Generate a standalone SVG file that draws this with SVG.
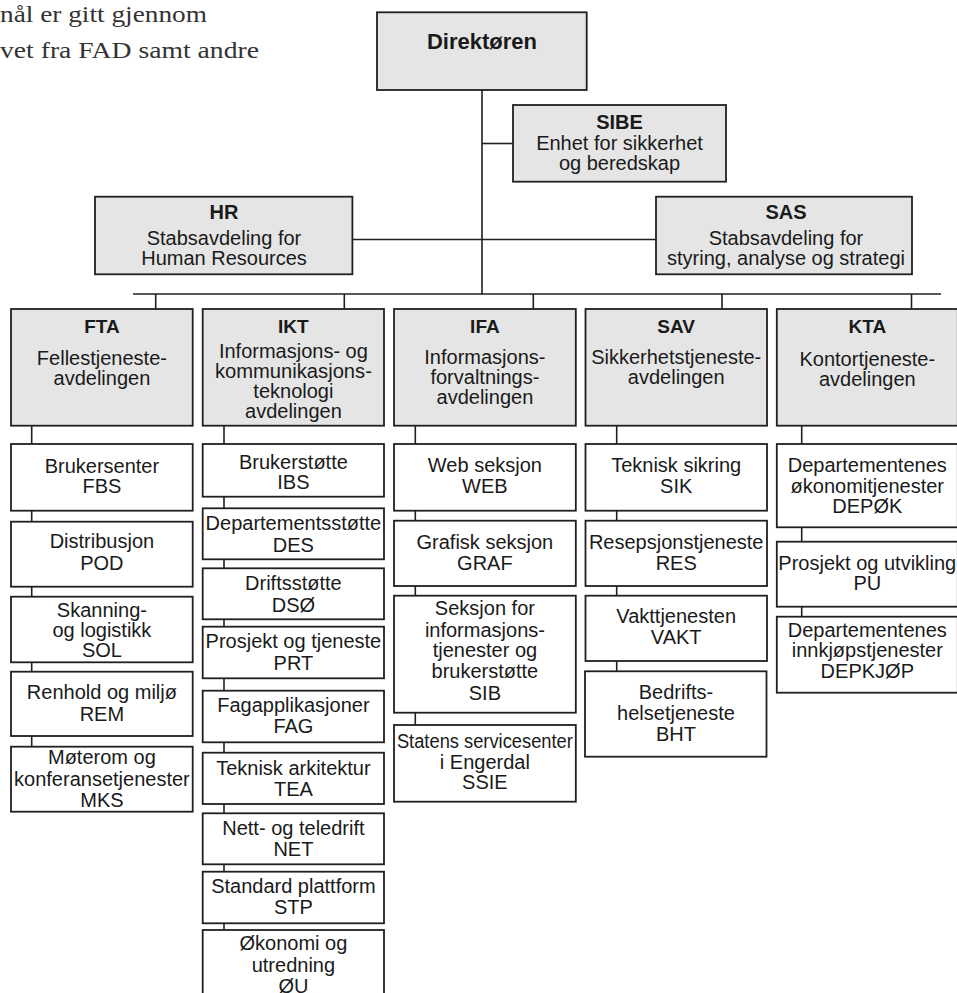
<svg xmlns="http://www.w3.org/2000/svg" width="957" height="993" viewBox="0 0 957 993">
<style>
.hd{fill:#e5e5e5;stroke:#231f20;stroke-width:1.8}
.sb{fill:#ffffff;stroke:#231f20;stroke-width:1.8}
.ln{stroke:#231f20;stroke-width:1.6;fill:none}
text{font-family:"Liberation Sans",Arial,sans-serif;fill:#1a1a1a;text-anchor:middle;font-size:20px}
.b{font-weight:bold;font-size:19px}
.b2{font-weight:bold;font-size:20px}
.intro{font-family:"Liberation Serif","Times New Roman",serif;font-size:23px;text-anchor:start;fill:#333}
</style>
<rect width="957" height="993" fill="#ffffff"/>
<text class="intro" x="0" y="22" textLength="207" lengthAdjust="spacingAndGlyphs">nål er gitt gjennom</text>
<text class="intro" x="0" y="58" textLength="259" lengthAdjust="spacingAndGlyphs">vet fra FAD samt andre</text>
<g id="connectors">
<line class="ln" x1="482" y1="90" x2="482" y2="294"/>
<line class="ln" x1="482" y1="143.5" x2="513" y2="143.5"/>
<line class="ln" x1="352.4" y1="239.5" x2="656" y2="239.5"/>
<line class="ln" x1="133" y1="294" x2="941" y2="294"/>
<line class="ln" x1="155.7" y1="294" x2="155.7" y2="309"/>
<line class="ln" x1="344.3" y1="294" x2="344.3" y2="309"/>
<line class="ln" x1="533.3" y1="294" x2="533.3" y2="309"/>
<line class="ln" x1="722" y1="294" x2="722" y2="309"/>
<line class="ln" x1="911.5" y1="294" x2="911.5" y2="309"/>
<line class="ln" x1="31.7" y1="425.7" x2="31.7" y2="746.7"/>
<line class="ln" x1="224" y1="425.7" x2="224" y2="930"/>
<line class="ln" x1="415.3" y1="425.7" x2="415.3" y2="725"/>
<line class="ln" x1="616.7" y1="425.7" x2="616.7" y2="671.3"/>
<line class="ln" x1="801.7" y1="425.7" x2="801.7" y2="616.7"/>
</g>
<g id="direktoren">
<rect class="hd" x="377" y="12.3" width="209.7" height="77.7"/>
<text class="b2" x="482" y="48.5" style="font-size:22px">Direktøren</text>
</g>
<g id="sibe">
<rect class="hd" x="513" y="105" width="213" height="76.7"/>
<text class="b2" x="619.5" y="128.5">SIBE</text>
<text x="619.5" y="150">Enhet for sikkerhet</text>
<text x="619.5" y="170">og beredskap</text>
</g>
<g id="hr">
<rect class="hd" x="95" y="196.7" width="257.4" height="77.6"/>
<text class="b2" x="224" y="219">HR</text>
<text x="224" y="245">Stabsavdeling for</text>
<text x="224" y="265">Human Resources</text>
</g>
<g id="sas">
<rect class="hd" x="656" y="196.7" width="256" height="77.6"/>
<text class="b2" x="786" y="219">SAS</text>
<text x="786" y="245">Stabsavdeling for</text>
<text x="786" y="265">styring, analyse og strategi</text>
</g>
<g id="fta">
<rect class="hd" x="11" y="309" width="181.7" height="116.7"/>
<text class="b" x="101.9" y="333.3">FTA</text>
<text x="101.9" y="364.5">Fellestjeneste-</text>
<text x="101.9" y="384.5">avdelingen</text>
</g>
<g id="ikt">
<rect class="hd" x="202.7" y="309" width="181.3" height="116.7"/>
<text class="b" x="293.4" y="333.3">IKT</text>
<text x="293.4" y="357.5">Informasjons- og</text>
<text x="293.4" y="377.5" textLength="157" lengthAdjust="spacingAndGlyphs">kommunikasjons-</text>
<text x="293.4" y="397.5">teknologi</text>
<text x="293.4" y="417.5">avdelingen</text>
</g>
<g id="ifa">
<rect class="hd" x="394" y="309" width="181.8" height="116.7"/>
<text class="b" x="484.9" y="333.3">IFA</text>
<text x="484.9" y="363.5">Informasjons-</text>
<text x="484.9" y="383.5">forvaltnings-</text>
<text x="484.9" y="403.5">avdelingen</text>
</g>
<g id="sav">
<rect class="hd" x="585.5" y="309" width="181.5" height="116.7"/>
<text class="b" x="676.2" y="333.3">SAV</text>
<text x="676.2" y="364">Sikkerhetstjeneste-</text>
<text x="676.2" y="384">avdelingen</text>
</g>
<g id="kta">
<rect class="hd" x="776.8" y="309" width="181" height="116.7"/>
<text class="b" x="867.3" y="333.3">KTA</text>
<text x="867.3" y="365.5">Kontortjeneste-</text>
<text x="867.3" y="385.5">avdelingen</text>
</g>
<g id="fbs">
<rect class="sb" x="11" y="444" width="181.7" height="66.7"/>
<text x="101.9" y="472.7">Brukersenter</text>
<text x="101.9" y="492.7">FBS</text>
</g>
<g id="pod">
<rect class="sb" x="11" y="521.7" width="181.7" height="65"/>
<text x="101.9" y="548.3">Distribusjon</text>
<text x="101.9" y="570">POD</text>
</g>
<g id="sol">
<rect class="sb" x="11" y="596.7" width="181.7" height="65.6"/>
<text x="101.9" y="616.7">Skanning-</text>
<text x="101.9" y="636.7">og logistikk</text>
<text x="101.9" y="657.3">SOL</text>
</g>
<g id="rem">
<rect class="sb" x="11" y="671.7" width="181.7" height="64.3"/>
<text x="101.9" y="699.3">Renhold og miljø</text>
<text x="101.9" y="720.7">REM</text>
</g>
<g id="mks">
<rect class="sb" x="11" y="746.7" width="181.7" height="65"/>
<text x="101.9" y="764">Møterom og</text>
<text x="101.9" y="785.5">konferansetjenester</text>
<text x="101.9" y="806.5">MKS</text>
</g>
<g id="ibs">
<rect class="sb" x="202.7" y="444" width="181.3" height="52.7"/>
<text x="293.4" y="469">Brukerstøtte</text>
<text x="293.4" y="489">IBS</text>
</g>
<g id="des">
<rect class="sb" x="202.7" y="508.3" width="181.3" height="51"/>
<text x="293.4" y="529.5">Departementsstøtte</text>
<text x="293.4" y="551.5">DES</text>
</g>
<g id="dso">
<rect class="sb" x="202.7" y="568.3" width="181.3" height="51"/>
<text x="293.4" y="589.5">Driftsstøtte</text>
<text x="293.4" y="611.5">DSØ</text>
</g>
<g id="prt">
<rect class="sb" x="202.7" y="626.7" width="181.3" height="51.6"/>
<text x="293.4" y="648.3">Prosjekt og tjeneste</text>
<text x="293.4" y="670">PRT</text>
</g>
<g id="fag">
<rect class="sb" x="202.7" y="690.7" width="181.3" height="51.6"/>
<text x="293.4" y="711.5">Fagapplikasjoner</text>
<text x="293.4" y="733">FAG</text>
</g>
<g id="tea">
<rect class="sb" x="202.7" y="752.7" width="181.3" height="51.3"/>
<text x="293.4" y="775">Teknisk arkitektur</text>
<text x="293.4" y="795.5">TEA</text>
</g>
<g id="net">
<rect class="sb" x="202.7" y="813.3" width="181.3" height="51"/>
<text x="293.4" y="835">Nett- og teledrift</text>
<text x="293.4" y="856">NET</text>
</g>
<g id="stp">
<rect class="sb" x="202.7" y="871.7" width="181.3" height="51.6"/>
<text x="293.4" y="892.7">Standard plattform</text>
<text x="293.4" y="914.3">STP</text>
</g>
<g id="ou">
<rect class="sb" x="202.7" y="930" width="181.3" height="80"/>
<text x="293.4" y="950">Økonomi og</text>
<text x="293.4" y="971.5">utredning</text>
<text x="293.4" y="992.5">ØU</text>
</g>
<g id="web">
<rect class="sb" x="394" y="444" width="181.8" height="66.7"/>
<text x="484.9" y="471.5">Web seksjon</text>
<text x="484.9" y="493">WEB</text>
</g>
<g id="graf">
<rect class="sb" x="394" y="520.7" width="181.8" height="65.3"/>
<text x="484.9" y="549">Grafisk seksjon</text>
<text x="484.9" y="569.5">GRAF</text>
</g>
<g id="sib">
<rect class="sb" x="394" y="595.7" width="181.8" height="117"/>
<text x="484.9" y="615">Seksjon for</text>
<text x="484.9" y="636.5">informasjons-</text>
<text x="484.9" y="657.3">tjenester og</text>
<text x="484.9" y="678.3">brukerstøtte</text>
<text x="484.9" y="700">SIB</text>
</g>
<g id="ssie">
<rect class="sb" x="394" y="725" width="181.8" height="76.7"/>
<text x="484.9" y="748.3" textLength="176" lengthAdjust="spacingAndGlyphs">Statens servicesenter</text>
<text x="484.9" y="768.5">i Engerdal</text>
<text x="484.9" y="789">SSIE</text>
</g>
<g id="sik">
<rect class="sb" x="585.5" y="444" width="181.5" height="66.7"/>
<text x="676.2" y="471.5">Teknisk sikring</text>
<text x="676.2" y="493">SIK</text>
</g>
<g id="res">
<rect class="sb" x="585.5" y="520.7" width="181.5" height="65.3"/>
<text x="676.2" y="549">Resepsjonstjeneste</text>
<text x="676.2" y="569.5">RES</text>
</g>
<g id="vakt">
<rect class="sb" x="585.5" y="595.7" width="181.5" height="65.3"/>
<text x="676.2" y="623.3">Vakttjenesten</text>
<text x="676.2" y="643.5">VAKT</text>
</g>
<g id="bht">
<rect class="sb" x="585" y="671.3" width="181.5" height="85.4"/>
<text x="676" y="699.3">Bedrifts-</text>
<text x="676" y="720">helsetjeneste</text>
<text x="676" y="740.7">BHT</text>
</g>
<g id="depok">
<rect class="sb" x="776.8" y="444" width="181" height="83.3"/>
<text x="867.3" y="471.7">Departementenes</text>
<text x="867.3" y="493.3">økonomitjenester</text>
<text x="867.3" y="513.3">DEPØK</text>
</g>
<g id="pu">
<rect class="sb" x="776.8" y="541.7" width="181" height="65"/>
<text x="867.3" y="570">Prosjekt og utvikling</text>
<text x="867.3" y="590">PU</text>
</g>
<g id="depkjop">
<rect class="sb" x="776.8" y="616.7" width="181" height="76"/>
<text x="867.3" y="636.7">Departementenes</text>
<text x="867.3" y="656.7">innkjøpstjenester</text>
<text x="867.3" y="678.3">DEPKJØP</text>
</g>
</svg>
